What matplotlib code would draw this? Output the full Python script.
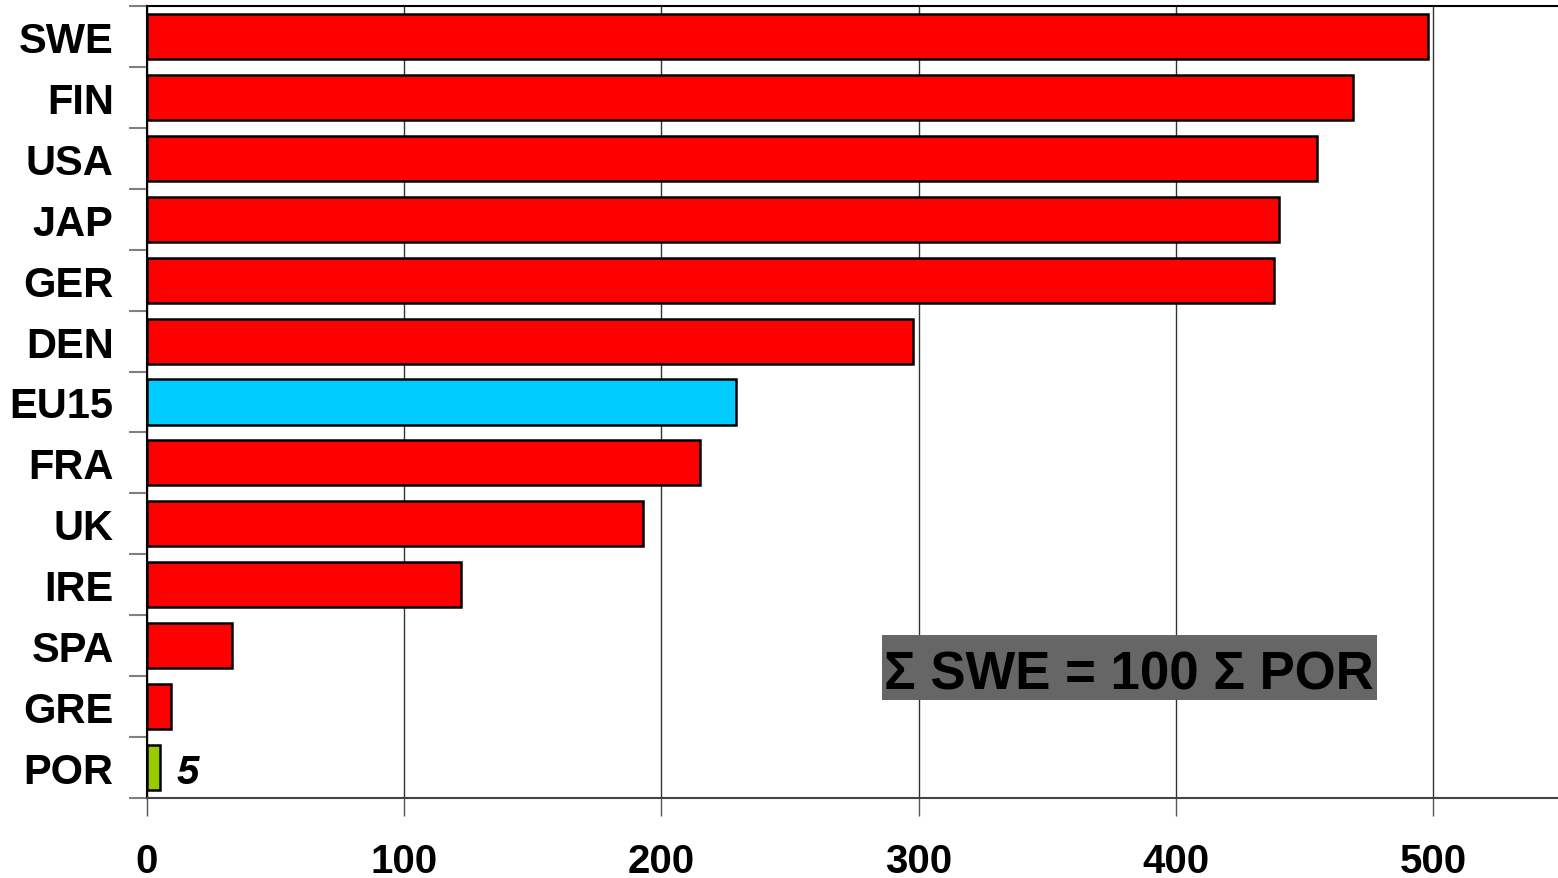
import matplotlib.pyplot as plt
from matplotlib.patches import Rectangle
import numpy as np

plt.rcParams['font.family'] = ['Liberation Sans', 'DejaVu Sans']

countries = ["SWE", "FIN", "USA", "JAP", "GER", "DEN", "EU15",
             "FRA", "UK", "IRE", "SPA", "GRE", "POR"]
values = [498, 469, 455, 440, 438, 298, 229, 215, 193, 122, 33, 9.5, 5]
bar_colors = ["#FF0000"] * 6 + ["#00CCFF"] + ["#FF0000"] * 5 + ["#99CC00"]
x_ticks = [0, 100, 200, 300, 400, 500]
note = "\u03a3 SWE = 100 \u03a3 POR"

fig = plt.figure(figsize=(15.58, 8.79), dpi=100)
ax = fig.add_axes([147 / 1558, 1 - 799 / 879, 550 * 2.572 / 1558, 792 / 879])

y = np.arange(len(countries))
ax.barh(y, values, height=0.74, color=bar_colors, edgecolor="black",
        linewidth=1.8, zorder=3)

ax.set_xlim(0, 550)
ax.set_ylim(len(countries) - 0.5, -0.5)

# grid lines behind bars
ax.set_xticks(x_ticks)
ax.set_xticklabels([str(t) for t in x_ticks], fontsize=29, fontweight="bold")
ax.xaxis.grid(True, color="#333333", linewidth=1.0, zorder=0)
ax.tick_params(axis="x", length=13, width=1, color="#555555", pad=19)

# category labels at centers, ticks at boundaries
ax.set_yticks(np.arange(len(countries) + 1) - 0.5)
ax.set_yticklabels([])
ax.set_yticks(y, minor=True)
ax.set_yticklabels(countries, minor=True, fontsize=30, fontweight="bold")
ax.tick_params(axis="y", which="major", length=13, width=1.5, color="#808080")
ax.tick_params(axis="y", which="minor", length=0, pad=24)

ax.spines["right"].set_visible(False)
ax.spines["top"].set_color("black")
ax.spines["top"].set_linewidth(1.5)
ax.spines["left"].set_color("black")
ax.spines["left"].set_linewidth(1.5)
ax.spines["bottom"].set_color("#444444")
ax.spines["bottom"].set_linewidth(1.5)

# value label for Portugal
ax.annotate(str(values[-1]), xy=(values[-1], y[-1]), xytext=(12, -3),
            textcoords="offset points", ha="left", va="center",
            fontsize=29, fontweight="bold", fontstyle="italic", zorder=4)

# note box
ax.add_patch(Rectangle((285.8, 9.825), 192.5, 1.067, facecolor="#666666",
                       edgecolor="none", zorder=5))
ax.text(381.8, 10.71, note, ha="center", va="baseline", fontsize=38,
        fontweight="bold", color="black", zorder=6)

fig.savefig("out.png", dpi=100)
